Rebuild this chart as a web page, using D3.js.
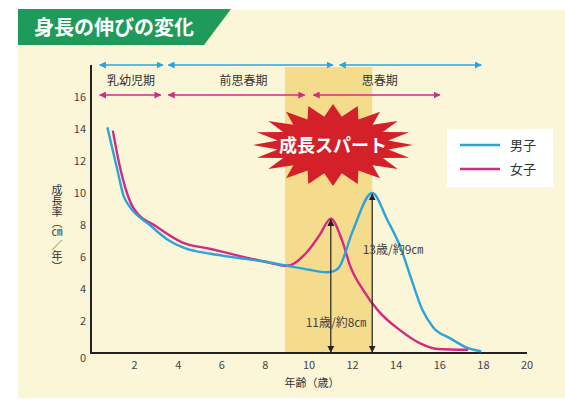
<!DOCTYPE html>
<html>
<head>
<meta charset="utf-8">
<script src="https://cdn.jsdelivr.net/npm/d3@7"></script>
<style>
    body { margin: 0; background: #fff; }
    svg text { font-family: "Noto Sans CJK JP", "Noto Sans", sans-serif; }
</style>
</head>
<body>
<div id="chart"></div>
<script>
// growth rate (cm / year) by age
const boys = [
    [0.75, 14.1], [1.2, 11.5], [1.5, 9.8], [1.8, 9.1], [2.7, 8.0], [3.5, 7.1],
    [4.3, 6.55], [5.5, 6.2], [6.7, 5.95], [8, 5.7], [9, 5.45], [10, 5.2],
    [10.8, 5.05], [11.1, 5.1], [11.4, 5.4], [12, 7.6], [12.9, 10.0], [13.6, 8.3],
    [14.2, 6.6], [14.7, 4.6], [15.2, 2.7], [15.7, 1.6], [16.5, 0.9], [17.3, 0.3], [17.9, 0.1]
];
const girls = [
    [1.0, 13.9], [1.3, 11.8], [1.65, 10.0], [1.95, 9.05], [3, 7.9], [4.2, 6.9],
    [5.5, 6.5], [6.7, 6.1], [8, 5.7], [9, 5.45], [9.9, 6.3], [10.5, 7.4], [11, 8.4],
    [11.5, 7.1], [11.9, 5.4], [12.5, 3.9], [13.2, 2.6], [14.2, 1.4], [15.1, 0.6],
    [15.9, 0.25], [17.3, 0.2]
];

const xTicks = [2, 4, 6, 8, 10, 12, 14, 16, 18, 20];
const yTicks = [0, 2, 4, 6, 8, 10, 12, 14, 16];

const periodLabels = ['乳幼児期', '前思春期', '思春期'];
const periodLabelAge = [1.83, 7.0, 13.25];
const boyPeriods = [[0.4, 3.3], [3.55, 11.1], [11.4, 17.9]];
const girlPeriods = [[0.4, 3.2], [3.55, 9.8], [10.2, 16.0]];

const spurtRange = [8.9, 12.9];
const peaks = [
    { age: 11, value: 8.4, label: '11歳/約8㎝' },
    { age: 12.9, value: 10.0, label: '13歳/約9㎝' }
];

const legendItems = ['男子', '女子'];

const colors = {
    boy: '#2ea3d8',
    girl: '#d32a84',
    cream: '#fcf6d8',
    band: '#f5dc8c',
    green: '#1e9a5a',
    red: '#d42028'
};

const width = 565, height = 400;

const svg = d3.select('#chart')
    .append('svg')
    .attr('width', width)
    .attr('height', height);

const x = d3.scaleLinear().domain([0, 20]).range([91, 527]);
const y = d3.scaleLinear().domain([0, 16]).range([353, 97]);

// background + title banner
svg.append('rect')
    .attr('x', 18).attr('y', 10)
    .attr('width', width - 18).attr('height', 388)
    .attr('fill', colors.cream);

svg.append('path')
    .attr('d', 'M18,9 L231,9 L204,45 L18,45 Z')
    .attr('fill', colors.green);

svg.append('text')
    .attr('x', 34).attr('y', 35)
    .attr('fill', '#fff')
    .attr('font-size', 20)
    .attr('font-weight', 'bold')
    .text('身長の伸びの変化');

// growth spurt band
svg.append('rect')
    .attr('x', x(spurtRange[0]))
    .attr('y', 67)
    .attr('width', x(spurtRange[1]) - x(spurtRange[0]))
    .attr('height', y(0) - 67)
    .attr('fill', colors.band);

// arrow heads
const defs = svg.append('defs');
function addMarker(id, color) {
    defs.append('marker')
        .attr('id', id)
        .attr('viewBox', '0 0 10 10')
        .attr('refX', 9).attr('refY', 5)
        .attr('markerWidth', 7).attr('markerHeight', 7)
        .attr('markerUnits', 'userSpaceOnUse')
        .attr('orient', 'auto-start-reverse')
        .append('path')
        .attr('d', 'M0,0 L10,5 L0,10 Z')
        .attr('fill', color);
}
addMarker('head-boy', colors.boy);
addMarker('head-girl', colors.girl);
addMarker('head-black', '#222');

// period arrows
function periodRow(periods, rowY, color, markerId) {
    svg.append('g')
        .selectAll('line')
        .data(periods)
        .enter()
        .append('line')
        .attr('x1', d => x(d[0]))
        .attr('x2', d => x(d[1]))
        .attr('y1', rowY).attr('y2', rowY)
        .attr('stroke', color)
        .attr('stroke-width', 1.6)
        .attr('marker-start', `url(#${markerId})`)
        .attr('marker-end', `url(#${markerId})`);
}
periodRow(boyPeriods, 65, colors.boy, 'head-boy');
periodRow(girlPeriods, 95, colors.girl, 'head-girl');

svg.append('g')
    .selectAll('text')
    .data(periodLabels)
    .enter()
    .append('text')
    .attr('x', (d, i) => x(periodLabelAge[i]))
    .attr('y', 85)
    .attr('text-anchor', 'middle')
    .attr('font-size', 12)
    .attr('fill', '#333')
    .text(d => d);

// starburst
const burstCx = 333, burstCy = 145, spikes = 20;
const burstPts = d3.range(spikes * 2).map(i => {
    const a = i / (spikes * 2) * Math.PI * 2;
    const r = i % 2 === 0 ? 1 : 0.7;
    return [burstCx + Math.cos(a) * 80 * r, burstCy + Math.sin(a) * 41 * r];
});
svg.append('polygon')
    .attr('points', burstPts.map(p => p.join(',')).join(' '))
    .attr('fill', colors.red);

svg.append('text')
    .attr('x', burstCx).attr('y', burstCy + 7)
    .attr('text-anchor', 'middle')
    .attr('font-size', 18)
    .attr('font-weight', 'bold')
    .attr('fill', '#fff')
    .text('成長スパート');

// axes
svg.append('line')
    .attr('x1', x(0)).attr('x2', x(0))
    .attr('y1', 65).attr('y2', y(0) + 1)
    .attr('stroke', '#222').attr('stroke-width', 2);
svg.append('line')
    .attr('x1', x(0) - 1).attr('x2', x(20))
    .attr('y1', y(0)).attr('y2', y(0))
    .attr('stroke', '#222').attr('stroke-width', 2);

svg.append('g')
    .selectAll('text')
    .data(yTicks)
    .enter()
    .append('text')
    .attr('x', 86)
    .attr('y', d => y(d) + (d === 0 ? 9 : 4))
    .attr('text-anchor', 'end')
    .attr('font-size', 11)
    .attr('fill', '#444')
    .text(d => d);

svg.append('g')
    .selectAll('text')
    .data(xTicks)
    .enter()
    .append('text')
    .attr('x', d => x(d))
    .attr('y', 369)
    .attr('text-anchor', 'middle')
    .attr('font-size', 11)
    .attr('fill', '#444')
    .text(d => d);

svg.append('text')
    .attr('x', 312).attr('y', 387)
    .attr('text-anchor', 'middle')
    .attr('font-size', 11)
    .attr('fill', '#333')
    .text('年齢（歳）');

svg.append('text')
    .attr('x', 57).attr('y', 184)
    .style('writing-mode', 'vertical-rl')
    .attr('font-size', 11)
    .attr('fill', '#333')
    .text('成長率（㎝／年）');

// curves
const line = d3.line()
    .x(d => x(d[0]))
    .y(d => y(d[1]))
    .curve(d3.curveMonotoneX);

svg.append('path')
    .datum(girls)
    .attr('d', line)
    .attr('fill', 'none')
    .attr('stroke', colors.girl)
    .attr('stroke-width', 2.4);

svg.append('path')
    .datum(boys)
    .attr('d', line)
    .attr('fill', 'none')
    .attr('stroke', colors.boy)
    .attr('stroke-width', 2.4);

// peak arrows
svg.append('g')
    .selectAll('line')
    .data(peaks)
    .enter()
    .append('line')
    .attr('x1', d => x(d.age)).attr('x2', d => x(d.age))
    .attr('y1', d => y(d.value) + 1).attr('y2', y(0) - 1)
    .attr('stroke', '#222')
    .attr('stroke-width', 1.2)
    .attr('marker-start', 'url(#head-black)')
    .attr('marker-end', 'url(#head-black)');

svg.append('text')
    .attr('x', 336).attr('y', 327)
    .attr('text-anchor', 'middle')
    .attr('font-size', 12)
    .attr('fill', '#444')
    .text(peaks[0].label);

svg.append('text')
    .attr('x', 393).attr('y', 254)
    .attr('text-anchor', 'middle')
    .attr('font-size', 12)
    .attr('fill', '#444')
    .text(peaks[1].label);

// legend
const legend = svg.append('g');
legend.append('rect')
    .attr('x', 447).attr('y', 129)
    .attr('width', 106).attr('height', 58)
    .attr('fill', '#fff');

legend.selectAll('line')
    .data(legendItems)
    .enter()
    .append('line')
    .attr('x1', 460).attr('x2', 500)
    .attr('y1', (d, i) => 145 + i * 24)
    .attr('y2', (d, i) => 145 + i * 24)
    .attr('stroke', (d, i) => i === 0 ? colors.boy : colors.girl)
    .attr('stroke-width', 2.4);

legend.selectAll('text')
    .data(legendItems)
    .enter()
    .append('text')
    .attr('x', 510)
    .attr('y', (d, i) => 150 + i * 24)
    .attr('font-size', 13)
    .attr('fill', '#333')
    .text(d => d);
</script>
</body>
</html>
